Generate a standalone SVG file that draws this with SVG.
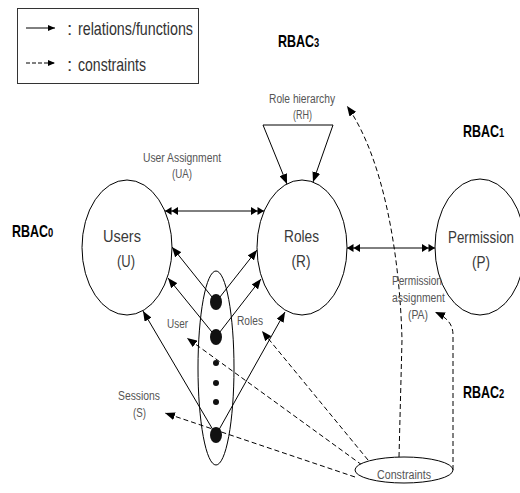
<svg xmlns="http://www.w3.org/2000/svg" width="520" height="493" viewBox="0 0 520 493">
<style>
text{font-family:"Liberation Sans",Arial,sans-serif}
.node{fill:none;stroke:#000;stroke-width:1}
.nt{font-size:17px;fill:#3a3a3a;text-anchor:middle}
.lb{font-size:12.5px;fill:#555}
.lg{font-size:19px;fill:#333}
.rb{font-size:16px;font-weight:bold;fill:#000}
.sol{fill:none;stroke:#000;stroke-width:1}
.dsh{fill:none;stroke:#000;stroke-width:1;stroke-dasharray:5,3}
</style>
<defs>
<marker id="a" viewBox="0 0 10 8" refX="10" refY="4" markerWidth="10" markerHeight="8" markerUnits="userSpaceOnUse" orient="auto"><path d="M0,0L10,4L0,8z" fill="#000"/></marker>
<marker id="d" viewBox="0 0 13 8" refX="13" refY="4" markerWidth="13" markerHeight="8" markerUnits="userSpaceOnUse" orient="auto-start-reverse"><path d="M0,0L6.5,4L0,8zM6.5,0L13,4L6.5,8z" fill="#000"/></marker>
<marker id="s" viewBox="0 0 7 6" refX="7" refY="3" markerWidth="7" markerHeight="6" markerUnits="userSpaceOnUse" orient="auto"><path d="M0,0L7,3L0,6z" fill="#000"/></marker>
</defs>
<rect width="520" height="493" fill="#fff"/>

<g id="legend">
<rect x="17.5" y="8.5" width="181" height="75" fill="none" stroke="#333"/>
<line x1="26" y1="28" x2="55" y2="28" class="sol" marker-end="url(#s)"/>
<line x1="26" y1="63" x2="55" y2="63" fill="none" stroke="#000" stroke-dasharray="4,2" marker-end="url(#s)"/>
<text x="67" y="35" class="lg">:</text>
<text x="78" y="35" class="lg" textLength="115" lengthAdjust="spacingAndGlyphs">relations/functions</text>
<text x="67" y="71" class="lg">:</text>
<text x="78" y="71" class="lg" textLength="68" lengthAdjust="spacingAndGlyphs">constraints</text>
</g>

<g id="rbac-labels">
<text class="rb" transform="translate(278,47) scale(0.78,1)">RBAC<tspan font-size="12">3</tspan></text>
<text class="rb" transform="translate(12,237) scale(0.78,1)">RBAC<tspan font-size="12">0</tspan></text>
<text class="rb" transform="translate(463,137) scale(0.78,1)">RBAC<tspan font-size="12">1</tspan></text>
<text class="rb" transform="translate(463,398) scale(0.78,1)">RBAC<tspan font-size="12">2</tspan></text>
</g>

<g id="connectors">
<line x1="165" y1="211" x2="264" y2="211" class="sol" marker-start="url(#d)" marker-end="url(#d)"/>
<line x1="347" y1="248" x2="435" y2="248" class="sol" marker-start="url(#d)" marker-end="url(#d)"/>
<path d="M263,125L333,125" class="sol"/>
<line x1="263" y1="125" x2="287" y2="184" class="sol" marker-end="url(#a)"/>
<line x1="333" y1="125" x2="313" y2="182" class="sol" marker-end="url(#a)"/>
<line x1="216" y1="302" x2="172" y2="247" class="sol" marker-end="url(#a)"/>
<line x1="216" y1="302" x2="257" y2="250" class="sol" marker-end="url(#a)"/>
<line x1="216" y1="337" x2="168" y2="278" class="sol" marker-end="url(#a)"/>
<line x1="216" y1="337" x2="261" y2="279" class="sol" marker-end="url(#a)"/>
<line x1="216" y1="435" x2="143" y2="311" class="sol" marker-end="url(#a)"/>
<line x1="216" y1="435" x2="285" y2="312" class="sol" marker-end="url(#a)"/>
<line x1="368" y1="460" x2="262" y2="331" class="dsh" marker-end="url(#a)"/>
<line x1="362" y1="465" x2="187" y2="338" class="dsh" marker-end="url(#a)"/>
<line x1="355" y1="477" x2="165" y2="413" class="dsh" marker-end="url(#a)"/>
<path d="M399,457L402,340C400,260 385,160 347,106" class="dsh" marker-end="url(#a)"/>
<path d="M453,470L453,335C453,325 448,318 435,312" class="dsh" marker-end="url(#a)"/>
</g>

<g id="users">
<ellipse cx="127" cy="247.5" rx="45" ry="67.5" class="node"/>
<text x="122" y="242" class="nt" textLength="38" lengthAdjust="spacingAndGlyphs">Users</text>
<text x="126" y="267" class="nt" textLength="18" lengthAdjust="spacingAndGlyphs">(U)</text>
</g>
<g id="roles">
<ellipse cx="302" cy="247.5" rx="45" ry="67.5" class="node"/>
<text x="301.5" y="242" class="nt" textLength="35" lengthAdjust="spacingAndGlyphs">Roles</text>
<text x="301" y="267" class="nt" textLength="19" lengthAdjust="spacingAndGlyphs">(R)</text>
</g>
<g id="permission">
<ellipse cx="480" cy="247" rx="45" ry="68" class="node"/>
<text class="nt" transform="translate(481,243) scale(0.786,1)">Permission</text>
<text x="481" y="268" class="nt" textLength="18" lengthAdjust="spacingAndGlyphs">(P)</text>
</g>
<g id="sessions">
<ellipse cx="216" cy="368" rx="18" ry="97" class="node"/>
<ellipse cx="216" cy="302" rx="6" ry="8" fill="#111"/>
<ellipse cx="216" cy="337" rx="6" ry="8" fill="#111"/>
<circle cx="216" cy="363" r="3" fill="#111"/>
<circle cx="216" cy="383" r="3" fill="#111"/>
<circle cx="216" cy="402" r="3" fill="#111"/>
<ellipse cx="216" cy="435" rx="6" ry="8" fill="#111"/>
</g>
<g id="constraints">
<ellipse cx="404" cy="470" rx="49" ry="13" fill="#fff" stroke="#000"/>
<text x="404" y="479" class="lb" text-anchor="middle" textLength="54" lengthAdjust="spacingAndGlyphs">Constraints</text>
</g>

<g id="labels">
<text x="182" y="162" class="lb" text-anchor="middle" textLength="78" lengthAdjust="spacingAndGlyphs">User Assignment</text>
<text x="182" y="178" class="lb" text-anchor="middle" textLength="20" lengthAdjust="spacingAndGlyphs">(UA)</text>
<text x="302" y="103" class="lb" text-anchor="middle" textLength="66" lengthAdjust="spacingAndGlyphs">Role hierarchy</text>
<text x="302.5" y="119" class="lb" text-anchor="middle" textLength="19" lengthAdjust="spacingAndGlyphs">(RH)</text>
<text x="392" y="285" class="lb" textLength="50" lengthAdjust="spacingAndGlyphs">Permission</text>
<text x="392" y="302" class="lb" textLength="53" lengthAdjust="spacingAndGlyphs">assignment</text>
<text x="418" y="319" class="lb" text-anchor="middle" textLength="20" lengthAdjust="spacingAndGlyphs">(PA)</text>
<text x="167" y="328" class="lb" textLength="21" lengthAdjust="spacingAndGlyphs">User</text>
<text x="237" y="325" class="lb" textLength="26" lengthAdjust="spacingAndGlyphs">Roles</text>
<text x="139" y="400" class="lb" text-anchor="middle" textLength="42" lengthAdjust="spacingAndGlyphs">Sessions</text>
<text x="139.5" y="417" class="lb" text-anchor="middle" textLength="13" lengthAdjust="spacingAndGlyphs">(S)</text>
</g>
</svg>
